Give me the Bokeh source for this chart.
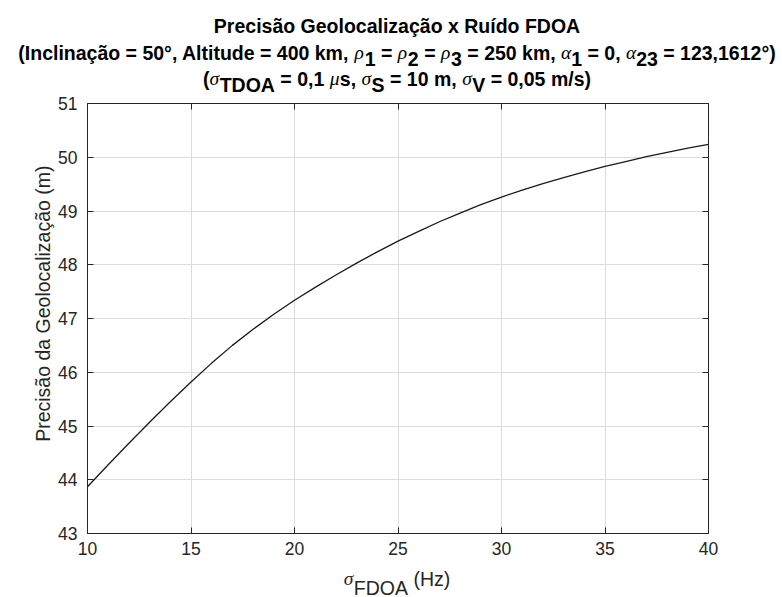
from bokeh.plotting import figure
from bokeh.models import Range1d, FixedTicker, LinearAxis, Label
from bokeh.layouts import column, row
from bokeh.embed import file_html
from bokeh.resources import INLINE

# ---------------- data ----------------
sigma_fdoa = [10, 11, 12, 13, 14, 15, 16, 17, 18, 19, 20,
              21, 22, 23, 24, 25, 26, 27, 28, 29, 30,
              31, 32, 33, 34, 35, 36, 37, 38, 39, 40]
precisao = [43.87, 44.28, 44.68, 45.07, 45.45, 45.82, 46.17, 46.50, 46.80, 47.08, 47.34,
            47.58, 47.81, 48.03, 48.24, 48.44, 48.62, 48.80, 48.96, 49.12, 49.26,
            49.39, 49.51, 49.62, 49.73, 49.83, 49.92, 50.01, 50.09, 50.17, 50.24]
x_ticks = [10, 15, 20, 25, 30, 35, 40]
y_ticks = [43, 44, 45, 46, 47, 48, 49, 50, 51]

title_line1 = "Precisão Geolocalização x Ruído FDOA"
y_label_text = "Precisão da Geolocalização (m)"

# ---------------- layout (picture pixels) ----------------
TOTAL_W, TOTAL_H = 782, 597
TITLE_H = 94          # title strip
XLAB_TOP = 558        # x-label strip starts here
YLAB_W = 55           # y-label strip width
FL, FR, FT, FB = 85, 708, 103, 533   # plot frame
CX = (FL + FR) / 2

AX = "#262626"
SANS = "Liberation Sans"
SERIF = "Liberation Serif"
FS = 19.5
TFS = "17.5px"


def strip(w, h, x0, y0):
    f = figure(width=w, height=h, output_backend="svg", toolbar_location=None,
               x_range=Range1d(x0, x0 + w), y_range=Range1d(y0 + h, y0),
               x_axis_type=None, y_axis_type=None, min_border=0,
               background_fill_color="white", border_fill_color="white")
    f.outline_line_color = None
    f.xgrid.visible = False
    f.ygrid.visible = False
    return f


title_fig = strip(TOTAL_W, TITLE_H, 0, 0)
ylab_fig = strip(YLAB_W, XLAB_TOP - TITLE_H, 0, TITLE_H)
xlab_fig = strip(TOTAL_W, TOTAL_H - XLAB_TOP, 0, XLAB_TOP)

# ---------------- main plot ----------------
p = figure(width=TOTAL_W - YLAB_W, height=XLAB_TOP - TITLE_H,
           output_backend="svg", toolbar_location=None,
           x_range=Range1d(x_ticks[0], x_ticks[-1]), y_range=Range1d(y_ticks[0], y_ticks[-1]),
           min_border_left=FL - YLAB_W, min_border_right=TOTAL_W - FR,
           min_border_top=FT - TITLE_H, min_border_bottom=XLAB_TOP - FB,
           background_fill_color="white", border_fill_color="white")
p.outline_line_color = AX
p.outline_line_width = 1

for ax, ticks in ((p.xaxis[0], x_ticks), (p.yaxis[0], y_ticks)):
    ax.ticker = FixedTicker(ticks=ticks)
    ax.axis_line_color = AX
    ax.major_tick_line_color = AX
    ax.major_tick_in = 6
    ax.major_tick_out = 0
    ax.minor_tick_line_color = None
    ax.major_label_text_color = AX
    ax.major_label_text_font = SANS
    ax.major_label_text_font_size = TFS
p.xaxis[0].major_label_standoff = 8
p.yaxis[0].major_label_standoff = 10

for loc, ticks in (("above", x_ticks), ("right", y_ticks)):
    a = LinearAxis(ticker=FixedTicker(ticks=ticks),
                   major_label_overrides={t: "" for t in ticks},
                   major_label_text_font_size="0px",
                   axis_line_color=AX, major_tick_line_color=AX,
                   major_tick_in=6, major_tick_out=0, minor_tick_line_color=None,
                   major_label_standoff=0)
    p.add_layout(a, loc)

p.xgrid.ticker = FixedTicker(ticks=x_ticks)
p.ygrid.ticker = FixedTicker(ticks=y_ticks)
p.xgrid.grid_line_color = "#dcdcdc"
p.ygrid.grid_line_color = "#dcdcdc"

p.line(sigma_fdoa, precisao, line_color="#1a1a1a", line_width=1.3)

# ---------------- text helpers ----------------
BOLD_W = {' ': 278, '(': 333, ')': 333, ',': 278, '.': 278, '/': 278, '=': 584, '°': 400,
          'A': 722, 'D': 722, 'F': 611, 'G': 778, 'I': 278, 'O': 778, 'P': 667, 'R': 722,
          'S': 667, 'T': 611, 'V': 667,
          'a': 556, 'c': 556, 'd': 611, 'e': 556, 'i': 278, 'k': 556, 'l': 278, 'm': 889,
          'n': 611, 'o': 611, 'r': 389, 's': 556, 't': 333, 'u': 611, 'x': 556, 'z': 500,
          'ã': 556, 'ç': 556, 'í': 278}
REG_W = {' ': 278, '(': 333, ')': 333, 'A': 667, 'D': 722, 'F': 611, 'H': 722, 'O': 778,
         'z': 500}
GREEK_W = 520


def width(txt, kind, size):
    if kind == "g":
        return len(txt) * GREEK_W * size / 1000
    tab = BOLD_W if kind == "b" else REG_W
    return sum(tab.get(c, 556) for c in txt) * size / 1000


def draw_line(fig, segs, cx, base, size, color):
    total = sum(width(t, k, size) for t, k, _ in segs)
    x = cx - total / 2
    for t, k, dy in segs:
        lead = len(t) - len(t.lstrip(' '))
        shown = t.strip(' ')
        sx = x + width(' ' * lead, k, size)
        if shown:
            if k == "g":
                font, style = SERIF, "italic"
            elif k == "b":
                font, style = SANS, "bold"
            else:
                font, style = SANS, "normal"
            fig.add_layout(Label(x=sx, y=base + dy, text=shown,
                                 text_font=font, text_font_style=style,
                                 text_font_size=f"{size}px", text_color=color,
                                 text_align="left", text_baseline="alphabetic"))
        x += width(t, k, size)


s2 = 6.5
draw_line(title_fig, [(title_line1, "b", 0)], CX, 25, FS, "black")
draw_line(title_fig,
          [("(Inclinação = 50°, Altitude = 400 km, ", "b", 0), ("ρ", "g", 0), ("1", "b", s2),
           (" = ", "b", 0), ("ρ", "g", 0), ("2", "b", s2), (" = ", "b", 0), ("ρ", "g", 0),
           ("3", "b", s2), (" = 250 km, ", "b", 0), ("α", "g", 0), ("1", "b", s2),
           (" = 0, ", "b", 0), ("α", "g", 0), ("23", "b", s2), (" = 123,1612°)", "b", 0)],
          CX, 52, FS, "black")
s3 = 6
draw_line(title_fig,
          [("(", "b", 0), ("σ", "g", 0), ("TDOA", "b", s3), (" = 0,1 ", "b", 0), ("μ", "g", 0),
           ("s, ", "b", 0), ("σ", "g", 0), ("S", "b", s3), (" = 10 m, ", "b", 0), ("σ", "g", 0),
           ("V", "b", s3), (" = 0,05 m/s)", "b", 0)],
          CX, 78, FS, "black")
draw_line(xlab_fig, [("σ", "g", 0), ("FDOA", "r", 9), (" (Hz)", "r", 0)], CX, 578, FS, AX)
ylab_fig.add_layout(Label(x=42, y=310, text=y_label_text, angle=90, angle_units="deg",
                          text_font=SANS, text_font_size=f"{FS}px", text_color=AX,
                          text_align="center", text_baseline="middle"))

layout = column(title_fig, row(ylab_fig, p, spacing=0), xlab_fig, spacing=0)
open("out.html", "w").write(file_html(layout, INLINE))
